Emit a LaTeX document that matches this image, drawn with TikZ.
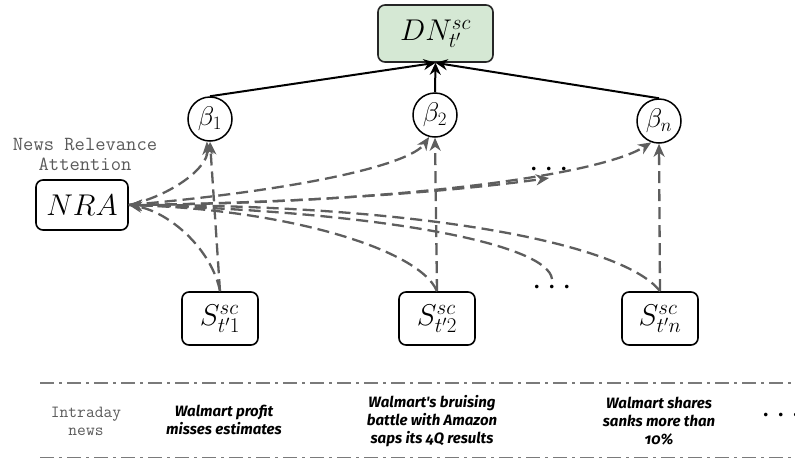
\documentclass[tikz,border=0pt]{standalone}
\usepackage{fix-cm}
\usepackage{fontspec}
\newfontfamily\newsfont[Numbers=OldStyle]{Fira Sans}
\usetikzlibrary{arrows.meta}

\definecolor{linkgray}{HTML}{5E5E5E}
\definecolor{dngreen}{HTML}{D5E8D4}
\definecolor{labelgray}{HTML}{5A5A5A}
\definecolor{rulegray}{HTML}{7A7A7A}

\begin{document}
\begin{tikzpicture}[x=1pt,y=-1pt,
  sbox/.style={draw=black, line width=1.6pt, rounded corners=7pt,
    minimum width=76pt, minimum height=53pt, inner sep=0pt,
    font=\fontsize{30}{30}\selectfont},
  nrabox/.style={sbox, minimum width=92pt, minimum height=50pt},
  dnbox/.style={sbox, fill=dngreen, draw=black!85, minimum width=115pt, minimum height=57pt},
  wcirc/.style={circle, draw=black, line width=1.5pt, minimum size=44pt, inner sep=0pt,
    font=\fontsize{27}{27}\selectfont},
  monolabel/.style={align=center, text=labelgray, inner sep=0pt},
  news/.style={align=center, inner sep=0pt,
    font=\newsfont\bfseries\itshape\fontsize{15}{18}\selectfont},
  ell/.style={anchor=base, inner sep=0pt, font=\fontsize{34}{34}\selectfont},
  slink/.style={draw=black, line width=2pt, -{Stealth[length=12pt,width=11pt,inset=4pt]}},
  dlink/.style={draw=linkgray, line width=2.3pt, dash pattern=on 12pt off 6pt,
    -{Stealth[length=13pt,width=11pt,inset=4pt]}},
  rule/.style={draw=rulegray, line width=1.6pt, dash pattern=on 14pt off 5pt on 3pt off 5pt}
]
\useasboundingbox (0,0) rectangle (795,459);

% top aggregation node and attention weights
\node[dnbox] (dn) at (435.5,33.5) {$DN^{sc}_{t'}$};
\node[wcirc] (b1) at (210,119) {$\beta_1$};
\node[wcirc] (b2) at (435,115) {$\beta_2$};
\node[wcirc] (bn) at (659,121) {$\beta_n$};

% attention module
\node[nrabox] (nra) at (82,205) {$NRA$};
\node[monolabel, font=\ttfamily\fontsize{20}{20}\selectfont] (nralab) at (85,154)
  {News Relevance\\Attention};

% news sentiment inputs
\node[sbox] (s1) at (220,318.5) {$S^{sc}_{t'1}$};
\node[sbox] (s2) at (437,318.5) {$S^{sc}_{t'2}$};
\node[sbox] (sn) at (660,318.5) {$S^{sc}_{t'n}$};

% ellipses
\node[ell] (dotsup) at (549,177.5) {$\cdots$};
\node[ell] (dotslow) at (552,295.5) {$\cdots$};
\node[ell] (dotsnews) at (781,423.5) {$\cdots$};
\coordinate (dtip) at (549,178);
\coordinate (dlow) at (552,279);

% weights feed the aggregate
\draw[slink] (b1.north) -- (dn.south);
\draw[slink] (b2.north) -- (dn.south);
\draw[slink] (bn.north) -- (dn.south);

% sentiments into the attention module
\draw[dlink] (s1.north) .. controls (212,250) and (170,212) .. (nra.east);
\draw[dlink] (s2.north) .. controls (420,250) and (290,210) .. (nra.east);
\draw[dlink] (dlow) .. controls (548,245) and (390,212) .. (nra.east);
\draw[dlink] (sn.north) .. controls (625,245) and (430,205) .. (nra.east);

% attention module out to the weights
\draw[dlink] (nra.east) .. controls (170,196) and (209,168) .. (b1.262);
\draw[dlink] (nra.east) .. controls (300,190) and (410,165) .. (b2.255);
\draw[dlink] (nra.east) .. controls (300,203) and (450,192) .. (dtip);
\draw[dlink] (nra.east) .. controls (400,203) and (600,175) .. (bn.250);

% sentiments straight up to their weights
\draw[dlink] (s1.north) -- (b1.south);
\draw[dlink] (s2.north) -- (b2.south);
\draw[dlink] (sn.north) -- (bn.south);

% intraday news strip
\coordinate (ra) at (40,383);
\coordinate (rb) at (795,383);
\coordinate (rc) at (40,457.5);
\coordinate (rd) at (795,457.5);
\draw[rule] (ra) -- (rb);
\draw[rule] (rc) -- (rd);

\node[monolabel, font=\ttfamily\fontsize{17}{18}\selectfont] (intra) at (86,421) {Intraday\\news};
\node[news] (n1) at (224,420) {Walmart profit\\misses estimates};
\node[news] (n2) at (432,421) {Walmart's bruising\\battle with Amazon\\saps its 4Q results};
\node[news] (n3) at (659,421) {Walmart shares\\sanks more than\\10\%};
\end{tikzpicture}
\end{document}
